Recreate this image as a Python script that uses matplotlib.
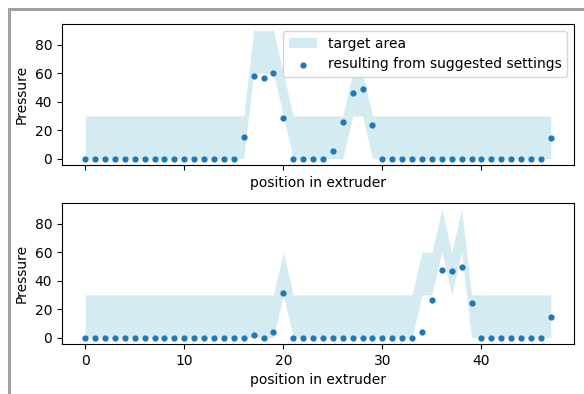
import numpy as np
import matplotlib
matplotlib.use("Agg")
import matplotlib.pyplot as plt
from matplotlib.lines import Line2D

position = np.arange(48)

# oberes Diagramm
lower_1 = [0]*17 + [60, 60, 60, 30] + [0]*6 + [30, 30] + [0]*19
upper_1 = [30]*17 + [90, 90, 90, 60] + [30]*6 + [60, 60] + [30]*19
result_1 = [0]*16 + [15.3, 57.7, 56.5, 60, 28.4, 0, 0, 0, 0, 5.1, 25.6, 45.8, 48.6, 23.5] + [0]*17 + [14.2]

# unteres Diagramm
lower_2 = [0]*20 + [30] + [0]*13 + [30, 30, 60, 30, 60] + [0]*9
upper_2 = [30]*20 + [60] + [30]*13 + [60, 60, 90, 60, 90] + [30]*9
result_2 = [0]*17 + [1.6, 0, 3.7, 31.4] + [0]*13 + [3.7, 26.3, 47.7, 46.7, 49.5, 24] + [0]*7 + [14.2]

fig = plt.figure(figsize=(5.84, 3.94), dpi=100)
ax1 = fig.add_axes([0.106, 0.581, 0.877, 0.358])
ax2 = fig.add_axes([0.106, 0.127, 0.877, 0.358], sharex=ax1)

for ax, lo, up, res in [(ax1, lower_1, upper_1, result_1), (ax2, lower_2, upper_2, result_2)]:
    ax.fill_between(position, lo, up, color="lightblue", alpha=0.5, linewidth=0, label="target area")
    ax.scatter(position, res, s=12, color="C0", label="resulting from suggested settings")
    ax.set_xlabel("position in extruder")
    ax.set_ylabel("Pressure")
    ax.set_yticks([0, 20, 40, 60, 80])

ax1.tick_params(labelbottom=True)
ax1.xaxis.set_tick_params(labelbottom=False)
ax2.set_xticks([0, 10, 20, 30, 40])
ax1.legend(loc="upper right")

# grauer Rahmen vom Screenshot
fig.add_artist(Line2D([9/584, 9/584], [0, 1-9/394], color="#a0a0a0", linewidth=2.2))
fig.add_artist(Line2D([9/584, 1], [1-9/394, 1-9/394], color="#a0a0a0", linewidth=2.2))

fig.savefig("out.png", dpi=100)
